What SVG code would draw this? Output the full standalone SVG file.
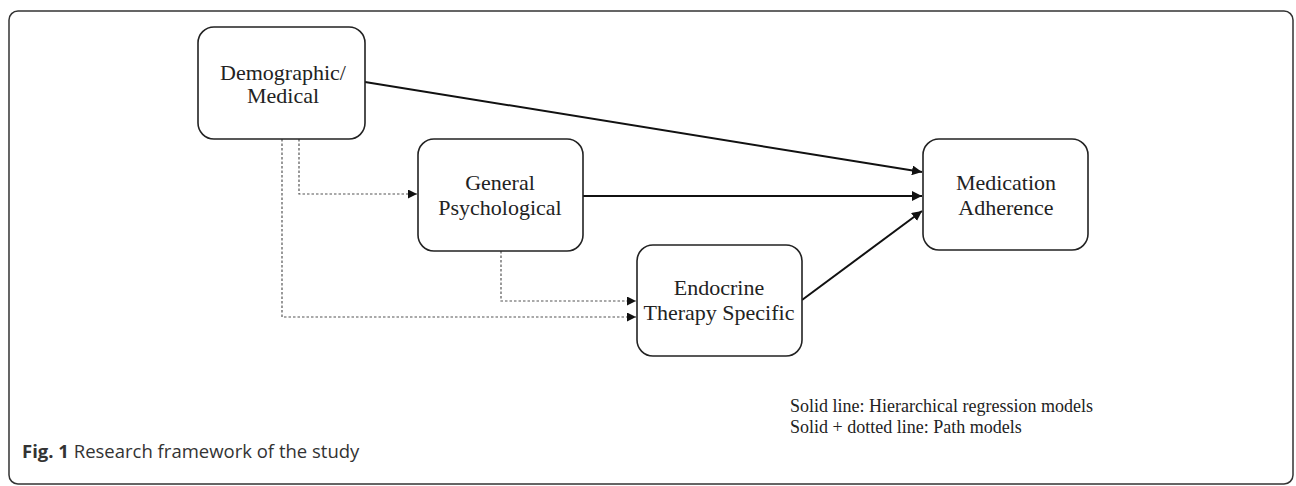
<svg xmlns="http://www.w3.org/2000/svg" width="1296" height="486" viewBox="0 0 1296 486">
<style>
.frame{fill:#fff;stroke:#333;stroke-width:1.5}
.node rect{fill:#fff;stroke:#222;stroke-width:1.6}
.node text{font-family:"Liberation Serif","Times New Roman",serif;font-size:22px;fill:#222;text-anchor:middle}
.solid{fill:none;stroke:#111;stroke-width:2}
.dot{fill:none;stroke:#555;stroke-width:1.2;stroke-dasharray:2.5 2}
.legend{font-family:"Liberation Serif","Times New Roman",serif;font-size:18px;fill:#222}
.cap{font-family:"Open Sans","Noto Sans",sans-serif;font-size:18.5px;fill:#333}
</style>
<defs>
<marker id="ah" viewBox="0 0 10 10" refX="10" refY="5" markerWidth="10" markerHeight="10" markerUnits="userSpaceOnUse" orient="auto">
<path d="M0,0 L10,5 L0,10 z" fill="#111"/>
</marker>
<marker id="ahs" viewBox="0 0 10 10" refX="10" refY="5" markerWidth="9" markerHeight="9" markerUnits="userSpaceOnUse" orient="auto">
<path d="M0,0 L10,5 L0,10 z" fill="#111"/>
</marker>
</defs>
<rect class="frame" x="9" y="11" width="1284" height="473" rx="9"/>
<g id="connectors">
<path class="solid" d="M365,82 L922,172" marker-end="url(#ah)"/>
<path class="solid" d="M583,196 L922,196" marker-end="url(#ah)"/>
<path class="solid" d="M802,300 L922,211" marker-end="url(#ah)"/>
<path class="dot" d="M299,139 V194 H417" marker-end="url(#ahs)"/>
<path class="dot" d="M282,139 V317 H636" marker-end="url(#ahs)"/>
<path class="dot" d="M501,251 V301 H636" marker-end="url(#ahs)"/>
</g>
<g id="demographic" class="node">
<rect x="198" y="27" width="167" height="112" rx="16"/>
<text x="283" y="80">Demographic/</text>
<text x="283" y="103">Medical</text>
</g>
<g id="general" class="node">
<rect x="418" y="139" width="165" height="112" rx="16"/>
<text x="500" y="190">General</text>
<text x="500" y="215">Psychological</text>
</g>
<g id="endocrine" class="node">
<rect x="637" y="245" width="165" height="111" rx="16"/>
<text x="719" y="295">Endocrine</text>
<text x="719" y="320">Therapy Specific</text>
</g>
<g id="adherence" class="node">
<rect x="923" y="139" width="165" height="111" rx="16"/>
<text x="1006" y="190">Medication</text>
<text x="1006" y="215">Adherence</text>
</g>
<text class="legend" x="790" y="412">Solid line: Hierarchical regression models</text>
<text class="legend" x="790" y="433">Solid + dotted line: Path models</text>
<text class="cap" x="22" y="458"><tspan font-weight="bold">Fig. 1</tspan> Research framework of the study</text>
</svg>
